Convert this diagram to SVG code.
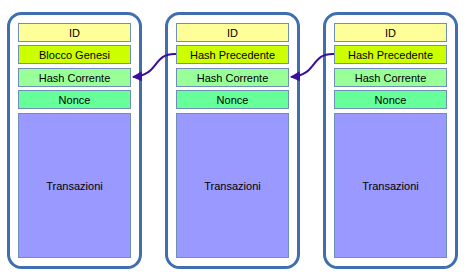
<svg xmlns="http://www.w3.org/2000/svg" width="469" height="279" viewBox="0 0 469 279">
  <style>
    .frame { fill: #ffffff; stroke: #3f6fae; stroke-width: 3; }
    .cell { stroke: #6f8fb8; stroke-width: 1; }
    .id { fill: #ffff99; }
    .prev { fill: #ccff00; }
    .cur { fill: #99ff99; }
    .nonce { fill: #66ff99; }
    .tx { fill: #9999ff; }
    text { font-family: "Liberation Sans", Arial, sans-serif; font-size: 11px; fill: #000; text-anchor: middle; }
    .link { fill: none; stroke: #3a0fa0; stroke-width: 2; }
  </style>
  <defs>
    <marker id="arrow" viewBox="0 0 10 10" refX="9" refY="5" markerWidth="5" markerHeight="5" orient="auto" markerUnits="strokeWidth">
      <path d="M0,0 L10,5 L0,10 z" fill="#3a0fa0"/>
    </marker>
  </defs>
  <rect width="469" height="279" fill="#ffffff"/>

  <g id="block1">
    <rect class="frame" x="8.5" y="13.5" width="132" height="254" rx="13"/>
    <rect class="cell id" x="18.5" y="23.5" width="112" height="18"/>
    <text x="74.5" y="36.5">ID</text>
    <rect class="cell prev" x="18.5" y="45.5" width="112" height="18"/>
    <text x="74.5" y="58.5">Blocco Genesi</text>
    <rect class="cell cur" x="18.5" y="68.5" width="112" height="18"/>
    <text x="74.5" y="81.5">Hash Corrente</text>
    <rect class="cell nonce" x="18.5" y="90.5" width="112" height="18"/>
    <text x="74.5" y="103.5">Nonce</text>
    <rect class="cell tx" x="18.5" y="113.5" width="112" height="144"/>
    <text x="74.5" y="189.5">Transazioni</text>
  </g>

  <g id="block2">
    <rect class="frame" x="166.5" y="13.5" width="132" height="254" rx="13"/>
    <rect class="cell id" x="176.5" y="23.5" width="112" height="18"/>
    <text x="232.5" y="36.5">ID</text>
    <rect class="cell prev" x="176.5" y="45.5" width="112" height="18"/>
    <text x="232.5" y="58.5">Hash Precedente</text>
    <rect class="cell cur" x="176.5" y="68.5" width="112" height="18"/>
    <text x="232.5" y="81.5">Hash Corrente</text>
    <rect class="cell nonce" x="176.5" y="90.5" width="112" height="18"/>
    <text x="232.5" y="103.5">Nonce</text>
    <rect class="cell tx" x="176.5" y="113.5" width="112" height="144"/>
    <text x="232.5" y="189.5">Transazioni</text>
  </g>

  <g id="block3">
    <rect class="frame" x="324.5" y="13.5" width="132" height="254" rx="13"/>
    <rect class="cell id" x="334.5" y="23.5" width="112" height="18"/>
    <text x="390.5" y="36.5">ID</text>
    <rect class="cell prev" x="334.5" y="45.5" width="112" height="18"/>
    <text x="390.5" y="58.5">Hash Precedente</text>
    <rect class="cell cur" x="334.5" y="68.5" width="112" height="18"/>
    <text x="390.5" y="81.5">Hash Corrente</text>
    <rect class="cell nonce" x="334.5" y="90.5" width="112" height="18"/>
    <text x="390.5" y="103.5">Nonce</text>
    <rect class="cell tx" x="334.5" y="113.5" width="112" height="144"/>
    <text x="390.5" y="189.5">Transazioni</text>
  </g>

  <g id="connectors">
    <path class="link" d="M176,54 C152,53 160,75 133,77" marker-end="url(#arrow)"/>
    <path class="link" d="M334,54 C310,53 318,75 291,77" marker-end="url(#arrow)"/>
  </g>
</svg>
